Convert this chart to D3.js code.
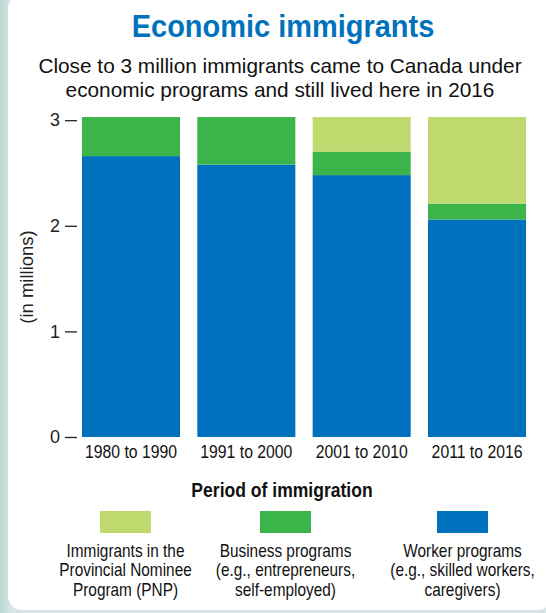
<!DOCTYPE html>
<html>
<head>
<meta charset="utf-8">
<script src="https://cdn.jsdelivr.net/npm/d3@7"></script>
<style>
  html, body { margin: 0; padding: 0; background: #fff; }
  svg { display: block; }
</style>
</head>
<body>
<div id="chart"></div>
<script>
// Data (millions of immigrants)
const periods = ['1980 to 1990', '1991 to 2000', '2001 to 2010', '2011 to 2016'];
const workerPrograms = [2.66, 2.58, 2.48, 2.06];
const businessPrograms = [0.37, 0.45, 0.22, 0.15];
const pnpPrograms = [0, 0, 0.33, 0.82];
const yTicks = [0, 1, 2, 3];

const keys = ['worker', 'business', 'pnp'];
const colors = { worker: '#0071bc', business: '#3bb54a', pnp: '#bfd96f' };
const legendItems = [
  { key: 'pnp', lines: ['Immigrants in the', 'Provincial Nominee', 'Program (PNP)'] },
  { key: 'business', lines: ['Business programs', '(e.g., entrepreneurs,', 'self-employed)'] },
  { key: 'worker', lines: ['Worker programs', '(e.g., skilled workers,', 'caregivers)'] }
];

// no condensed face installed, so squeeze Liberation Sans horizontally
const font = '"Liberation Sans", Arial, sans-serif';
const squeeze = 0.83;

const W = 546, H = 613;

const svg = d3.select('#chart').append('svg')
  .attr('width', W)
  .attr('height', H);

// Frame
const defs = svg.append('defs');
const bg = defs.append('linearGradient').attr('id', 'bg').attr('x1', 0).attr('x2', 1);
bg.append('stop').attr('offset', 0).attr('stop-color', '#bcd6d3');
bg.append('stop').attr('offset', 0.02).attr('stop-color', '#d6e6e4');
bg.append('stop').attr('offset', 1).attr('stop-color', '#d6e6e4');

svg.append('rect').attr('width', W).attr('height', H).attr('fill', 'url(#bg)');
svg.append('rect')
  .attr('x', 8).attr('y', -6)
  .attr('width', 544).attr('height', 616)
  .attr('rx', 14)
  .attr('fill', '#fff');

// Table for stacking
const table = periods.map((p, i) => ({
  period: p,
  worker: workerPrograms[i],
  business: businessPrograms[i],
  pnp: pnpPrograms[i]
}));
const stacked = d3.stack().keys(keys)(table);

// Scales
const x = d3.scaleBand()
  .domain(periods)
  .range([73.3, 534.7])
  .paddingInner(0.15)
  .paddingOuter(0.075);

const y = d3.scaleLinear()
  .domain([0, 3])
  .range([437, 120.2]);

// Bars
svg.append('g')
  .selectAll('g')
  .data(stacked)
  .join('g')
  .attr('fill', d => colors[d.key])
  .selectAll('rect')
  .data(d => d)
  .join('rect')
  .attr('x', d => x(d.data.period))
  .attr('width', x.bandwidth())
  .attr('y', d => y(d[1]))
  .attr('height', d => y(d[0]) - y(d[1]));

// Y axis (ticks only)
const yAxis = svg.append('g')
  .attr('transform', 'translate(77,0)')
  .call(d3.axisLeft(y).tickValues(yTicks).tickSize(12).tickPadding(5).tickFormat(d3.format('d')));
yAxis.select('.domain').remove();
yAxis.selectAll('line').attr('stroke', '#222').attr('stroke-width', 1.3);
yAxis.selectAll('text')
  .attr('fill', '#222')
  .style('font-family', font)
  .style('font-size', '18px');

svg.append('text')
  .attr('transform', 'translate(33,277) rotate(-90)')
  .attr('text-anchor', 'middle')
  .style('font-family', font)
  .style('font-size', '18.5px')
  .attr('fill', '#222')
  .text('(in millions)');

// X axis labels
const xAxis = svg.append('g')
  .attr('transform', 'translate(0,437)')
  .call(d3.axisBottom(x).tickSize(0).tickPadding(8));
xAxis.select('.domain').remove();
xAxis.selectAll('text')
  .attr('fill', '#111')
  .attr('transform', `scale(${squeeze},1)`)
  .style('font-family', font)
  .style('font-size', '19px');

// helper for squeezed text
function label(x0, y0, txt, size, sx, weight, fill) {
  return svg.append('g')
    .attr('transform', `translate(${x0},${y0}) scale(${sx},1)`)
    .append('text')
    .attr('text-anchor', 'middle')
    .style('font-family', font)
    .style('font-weight', weight)
    .style('font-size', size + 'px')
    .attr('fill', fill)
    .text(txt);
}

label(282, 497, 'Period of immigration', 19.5, 0.9, 'bold', '#111');

// Title
label(283, 37, 'Economic immigrants', 30.5, 0.95, 'bold', '#0072bc');

const sub = svg.append('text')
  .attr('text-anchor', 'middle')
  .style('font-family', font)
  .style('font-size', '20.8px')
  .attr('fill', '#111');
sub.append('tspan').attr('x', 280).attr('y', 73).text('Close to 3 million immigrants came to Canada under');
sub.append('tspan').attr('x', 280).attr('y', 97).text('economic programs and still lived here in 2016');

// Legend
const lgPos = { pnp: 125.5, business: 285.5, worker: 462.5 };

const lg = svg.append('g')
  .selectAll('g')
  .data(legendItems)
  .join('g')
  .attr('transform', d => `translate(${lgPos[d.key]},0)`);

lg.append('rect')
  .attr('x', -25.5).attr('y', 511)
  .attr('width', 51).attr('height', 22)
  .attr('fill', d => colors[d.key]);

lg.append('text')
  .attr('text-anchor', 'middle')
  .attr('transform', 'scale(0.855,1)')
  .style('font-family', font)
  .style('font-size', '18px')
  .attr('fill', '#111')
  .selectAll('tspan')
  .data(d => d.lines)
  .join('tspan')
  .attr('x', 0)
  .attr('y', (d, i) => 557 + i * 19.5)
  .text(d => d);
</script>
</body>
</html>
